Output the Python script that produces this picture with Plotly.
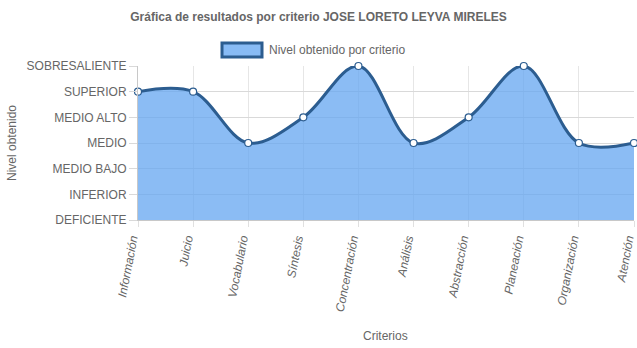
import plotly.graph_objects as go

criterios = ["Información", "Juicio", "Vocabulario", "Síntesis", "Concentración",
             "Análisis", "Abstracción", "Planeación", "Organización", "Atención"]
niveles = [5, 5, 3, 4, 6, 3, 4, 6, 3, 3]
nivel_labels = ["DEFICIENTE", "INFERIOR", "MEDIO BAJO", "MEDIO", "MEDIO ALTO",
                "SUPERIOR", "SOBRESALIENTE"]
titulo = "Gráfica de resultados por criterio JOSE LORETO LEYVA MIRELES"
serie = "Nivel obtenido por criterio"

LINE = "#2c5d90"
FILL = "rgba(100,165,240,0.75)"
FONT = "Liberation Sans, Arial, sans-serif"

fig = go.Figure()
fig.add_trace(go.Scatter(
    x=list(range(len(criterios))), y=niveles,
    mode="lines+markers",
    line=dict(color=LINE, width=3, shape="spline", smoothing=1.0),
    fill="tozeroy", fillcolor=FILL,
    marker=dict(size=7, color="white", line=dict(color=LINE, width=1.2)),
    cliponaxis=False, showlegend=False, name=serie,
))

fig.update_layout(
    width=637, height=348,
    margin=dict(l=138, r=3, t=66, b=128),
    paper_bgcolor="white", plot_bgcolor="white",
    font=dict(family=FONT, color="#666666", size=12),
    title=dict(text="<b>" + titulo + "</b>", x=0.5, xanchor="center",
               y=1 - 17 / 348, yanchor="middle",
               font=dict(size=12, color="#666666")),
    xaxis=dict(
        tickmode="array", tickvals=list(range(len(criterios))), ticktext=criterios,
        range=[0, len(criterios) - 1], tickangle=-79,
        tickfont=dict(size=12, style="italic", color="#666666"),
        ticklabeloverflow="allow", ticklabelshift=-6,
        showgrid=True, gridcolor="#e6e6e6", gridwidth=1,
        ticks="outside", ticklen=6, tickcolor="#e0e0e0",
        showline=True, linecolor="#c8c8c8", linewidth=1, zeroline=False,
        automargin=False,
    ),
    yaxis=dict(
        tickmode="array", tickvals=list(range(len(nivel_labels))), ticktext=nivel_labels,
        range=[0, len(nivel_labels) - 1],
        tickfont=dict(size=12, color="#666666"),
        ticklabeloverflow="allow",
        showgrid=True, gridcolor="#d9d9d9", gridwidth=1,
        ticks="outside", ticklen=8, tickcolor="#d9d9d9",
        showline=True, linecolor="#c8c8c8", linewidth=1, zeroline=False,
        automargin=False,
    ),
)

# Legend drawn as a box + label
fig.add_shape(type="rect", xref="paper", yref="paper",
              x0=(222 - 138) / 496, x1=(262 - 138) / 496,
              y0=(220 - 57) / 154, y1=(220 - 43) / 154,
              fillcolor="#88bbf5", line=dict(color=LINE, width=3))
fig.add_annotation(text=serie, xref="paper", yref="paper",
                   x=(267 - 138) / 496, y=(220 - 50) / 154,
                   xanchor="left", yanchor="middle", showarrow=False,
                   font=dict(size=12, color="#666666"))

# Axis titles
fig.add_annotation(text="Criterios", xref="paper", yref="paper",
                   x=(385 - 138) / 496, y=(220 - 336) / 154,
                   xanchor="center", yanchor="middle", showarrow=False,
                   font=dict(size=12, color="#666666"))
fig.add_annotation(text="Nivel obtenido", xref="paper", yref="paper",
                   x=(12 - 138) / 496, y=(220 - 143) / 154, textangle=-90,
                   xanchor="center", yanchor="middle", showarrow=False,
                   font=dict(size=12, color="#666666"))

fig.write_html("out.html")
